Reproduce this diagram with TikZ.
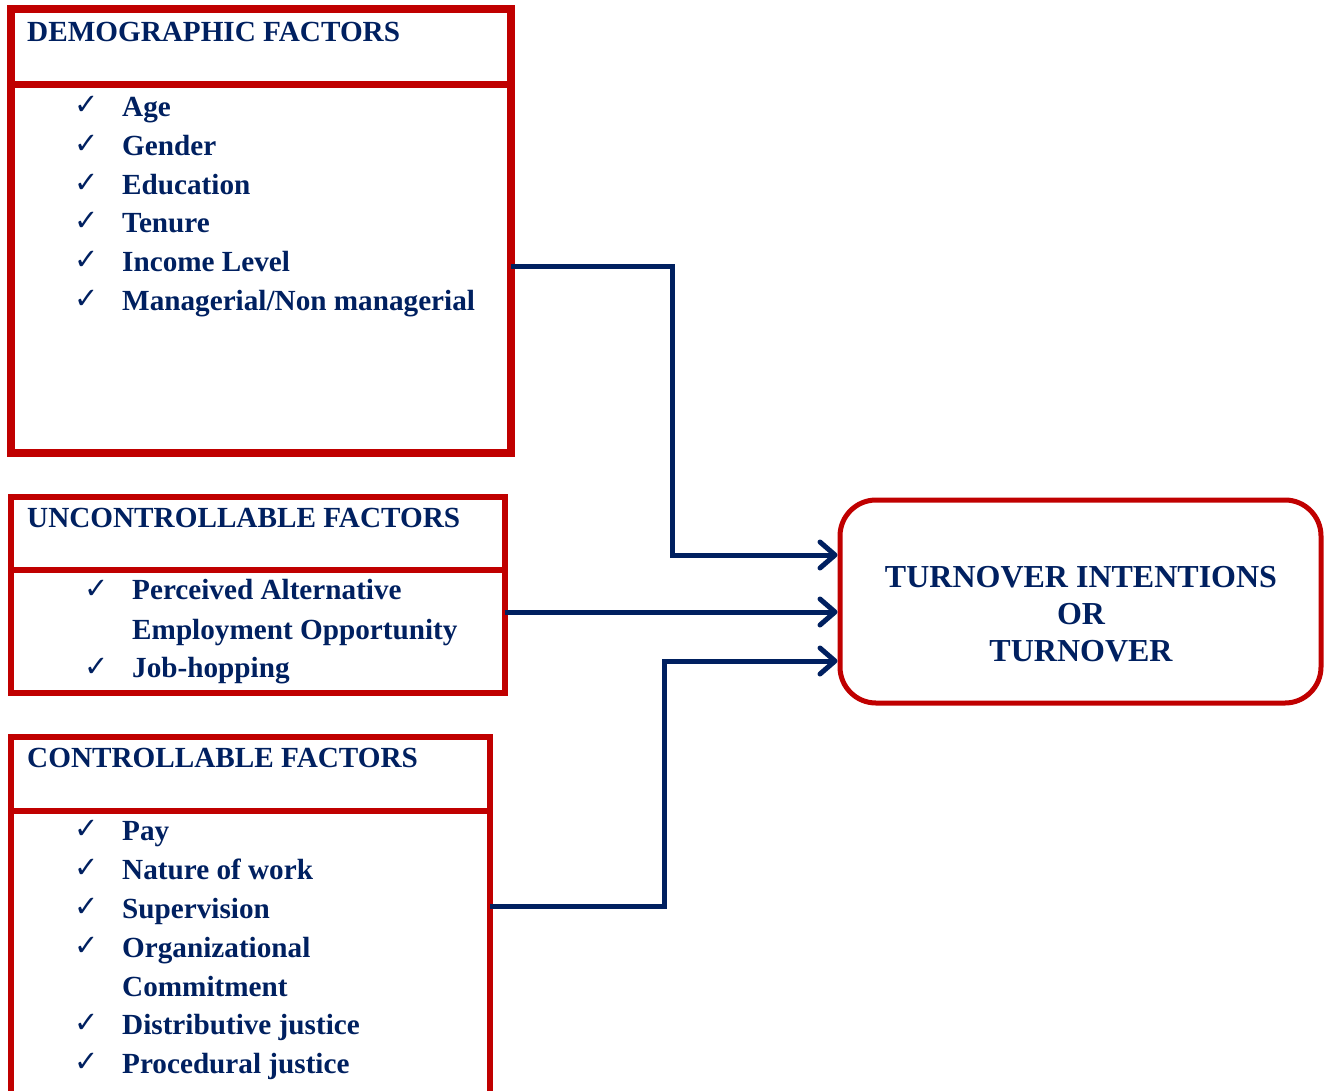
\documentclass[tikz,border=0pt]{standalone}
\usepackage{fontspec}
\setmainfont{Liberation Serif}
\newfontfamily\chkfont{DejaVu Sans}
\usetikzlibrary{arrows.meta,calc}
\definecolor{navy}{RGB}{0,32,96}
\definecolor{boxred}{RGB}{192,0,0}
\newcommand{\ck}{\chkfont ✓}
\begin{document}
\begin{tikzpicture}[x=1pt,y=-1pt,
  frame/.style={draw=boxred, line width=#1, rectangle, inner sep=0pt, outer sep=0pt},
  txt/.style={anchor=base west, inner sep=0pt, text=navy, font=\fontsize{29.2}{35}\selectfont\bfseries},
  chk/.style={anchor=base west, inner sep=0pt, text=navy, font=\fontsize{29}{32}\selectfont},
  conn/.style={draw=navy, line width=5pt},
  arr/.style={conn, -{Straight Barb[length=15pt,width=26pt,round]}}
]
\useasboundingbox (0,0) rectangle (1325,1090);
% demographic
\node[frame=7.5pt, minimum width=500pt, minimum height=75.5pt] (demohead) at (261,46.75) {};
\node[frame=7.5pt, minimum width=500pt, minimum height=368.5pt] (demobody) at (261,268.75) {};
\node[txt] (dh) at (27,41) {DEMOGRAPHIC FACTORS};
\node[chk] (dc1) at (74,114) {\ck};
\node[txt] (d1) at (122,116) {Age};
\node[chk] (dc2) at (74,153) {\ck};
\node[txt] (d2) at (122,155) {Gender};
\node[chk] (dc3) at (74,192) {\ck};
\node[txt] (d3) at (122,194) {Education};
\node[chk] (dc4) at (74,230) {\ck};
\node[txt] (d4) at (122,232) {Tenure};
\node[chk] (dc5) at (74,269) {\ck};
\node[txt] (d5) at (122,271) {Income Level};
\node[chk] (dc6) at (74,308) {\ck};
\node[txt] (d6) at (122,310) {Managerial/Non managerial};
% uncontrollable
\node[frame=6pt, minimum width=493.5pt, minimum height=73.5pt] (unchead) at (257.75,533.25) {};
\node[frame=6pt, minimum width=493.5pt, minimum height=123pt] (uncbody) at (257.75,631.5) {};
\node[txt] (uh) at (27,527) {UNCONTROLLABLE FACTORS};
\node[chk] (uc1) at (84,598) {\ck};
\node[txt] (u1) at (132,599) {Perceived Alternative};
\node[txt] (u2) at (132,639) {Employment Opportunity};
\node[chk] (uc3) at (84,676) {\ck};
\node[txt] (u3) at (132,677) {Job-hopping};
% controllable
\node[frame=6pt, minimum width=479pt, minimum height=74pt] (ctrlhead) at (250.5,774) {};
\node[frame=6pt, minimum width=479pt, minimum height=298pt] (ctrlbody) at (250.5,960) {};
\node[txt] (ch) at (27,767) {CONTROLLABLE FACTORS};
\node[chk] (cc1) at (74,838) {\ck};
\node[txt] (c1) at (122,840) {Pay};
\node[chk] (cc2) at (74,877) {\ck};
\node[txt] (c2) at (122,879) {Nature of work};
\node[chk] (cc3) at (74,916) {\ck};
\node[txt] (c3) at (122,918) {Supervision};
\node[chk] (cc4) at (74,955) {\ck};
\node[txt] (c4) at (122,957) {Organizational};
\node[txt] (c5) at (122,996) {Commitment};
\node[chk] (cc6) at (74,1032) {\ck};
\node[txt] (c6) at (122,1034) {Distributive justice};
\node[chk] (cc7) at (74,1071) {\ck};
\node[txt] (c7) at (122,1073) {Procedural justice};
% target
\node[draw=boxred, line width=5pt, rounded corners=36pt, minimum width=481pt, minimum height=203pt, inner sep=0pt] (target) at (1080.5,601.5) {};
\node[text=navy, align=center, inner sep=0pt, font=\fontsize{32}{37}\selectfont\bfseries] (tlabel) at (1081,614.5) {TURNOVER INTENTIONS\\OR\\TURNOVER};
% connectors
\coordinate (j1) at (672.5,266);
\coordinate (a1) at (837,555);
\coordinate (a2) at (837,612);
\coordinate (j3) at (664,906);
\coordinate (a3) at (837,661);
\draw[arr] (demobody.east |- j1) -- (j1) |- (target.west |- a1);
\draw[arr] (uncbody.east |- a2) -- (target.west |- a2);
\draw[arr] (ctrlbody.east |- j3) -- (j3) |- (target.west |- a3);
\end{tikzpicture}
\end{document}
